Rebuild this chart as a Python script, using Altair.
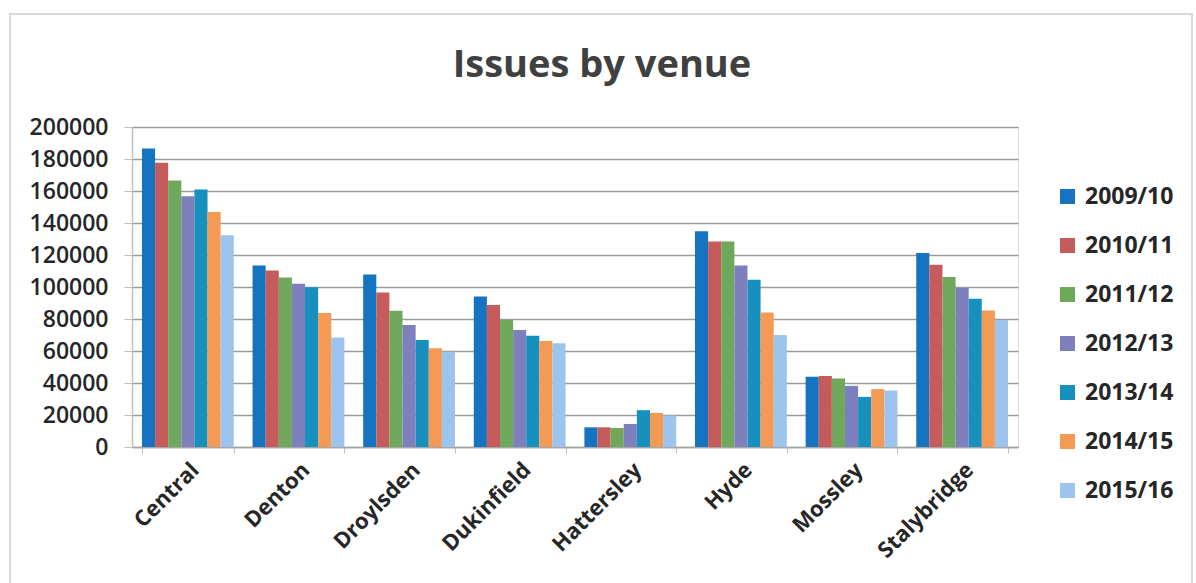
import altair as alt
import pandas as pd

venues = ["Central", "Denton", "Droylsden", "Dukinfield", "Hattersley", "Hyde", "Mossley", "Stalybridge"]
years = ["2009/10", "2010/11", "2011/12", "2012/13", "2013/14", "2014/15", "2015/16"]

v2009 = [186600, 113500, 107800, 94000, 12300, 134800, 43900, 121200]
v2010 = [177600, 110300, 96600, 88800, 12300, 128500, 44300, 113900]
v2011 = [166600, 106000, 85100, 79400, 11900, 128500, 42800, 106200]
v2012 = [156700, 102000, 76300, 73100, 14400, 113500, 38200, 99300]
v2013 = [160900, 99900, 66900, 69600, 23000, 104500, 31300, 92600]
v2014 = [146900, 83800, 61700, 66200, 21300, 84000, 36200, 85300]
v2015 = [132300, 68500, 59600, 64800, 19600, 70000, 35300, 79400]

colors = ["#1673BF", "#C65B5B", "#6FA85A", "#7E80BE", "#1790BE", "#F59A55", "#9CC4EC"]

title_text = ["Issues by venue"]

series = [v2009, v2010, v2011, v2012, v2013, v2014, v2015]
rows = []
for y, vals in zip(years, series):
    for v, val in zip(venues, vals):
        rows.append({"venue": v, "year": y, "issues": val})
df = pd.DataFrame(rows)

FONT = "Open Sans"
W, H = 886, 320

bars = alt.Chart(df).mark_bar().encode(
    x=alt.X("venue:N", sort=venues, title=None,
            scale=alt.Scale(paddingInner=0.17, paddingOuter=0.09),
            axis=alt.Axis(labelAngle=-45, labelFontSize=22, labelFontWeight="bold",
                          labelColor="#262626", labelFont=FONT, tickBand="extent",
                          tickColor="#BFBFBF", tickSize=6, domainColor="#A6A6A6",
                          domainWidth=1.5, labelPadding=6)),
    xOffset=alt.XOffset("year:N", sort=years, scale=alt.Scale(paddingInner=0)),
    y=alt.Y("issues:Q", title=None,
            scale=alt.Scale(domain=[0, 200000], nice=False),
            axis=alt.Axis(values=list(range(0, 200001, 20000)), labelFontSize=23,
                          labelFontWeight=600,
                          labelColor="#262626", labelFont=FONT, gridColor="#9A9A9A",
                          gridWidth=1.5, tickColor="#BFBFBF", tickSize=8,
                          domainColor="#BFBFBF", domainWidth=1.5, labelPadding=16,
                          format="d")),
    color=alt.Color("year:N", sort=years, scale=alt.Scale(domain=years, range=colors),
                    legend=alt.Legend(title=None, orient="none", legendX=924, legendY=58,
                                      symbolType="square", symbolSize=225,
                                      symbolStrokeWidth=0, labelFontSize=23,
                                      labelFont=FONT, labelFontWeight="bold",
                                      labelColor="#262626", rowPadding=25,
                                      labelOffset=6)),
)

frame = alt.Chart(pd.DataFrame({"a": [0]})).mark_rect(
    fill=None, stroke="#D9D9D9", strokeWidth=2
).encode(x=alt.value(-122), x2=alt.value(1060), y=alt.value(-113), y2=alt.value(470))

title = alt.Chart(pd.DataFrame({"t": title_text})).mark_text(
    font=FONT, fontSize=38, fontWeight="bold", color="#404040",
    align="center", baseline="alphabetic"
).encode(text="t:N", x=alt.value(470), y=alt.value(-50))

chart = alt.layer(frame, title, bars).properties(
    width=W, height=H,
    autosize=alt.AutoSizeParams(type="none"),
    padding={"left": 132, "top": 127, "right": 1196 - 132 - W, "bottom": 583 - 127 - H},
).configure_view(stroke=None).configure(background="white")

chart.save("out.html", embed_options={"renderer": "svg", "actions": False})
